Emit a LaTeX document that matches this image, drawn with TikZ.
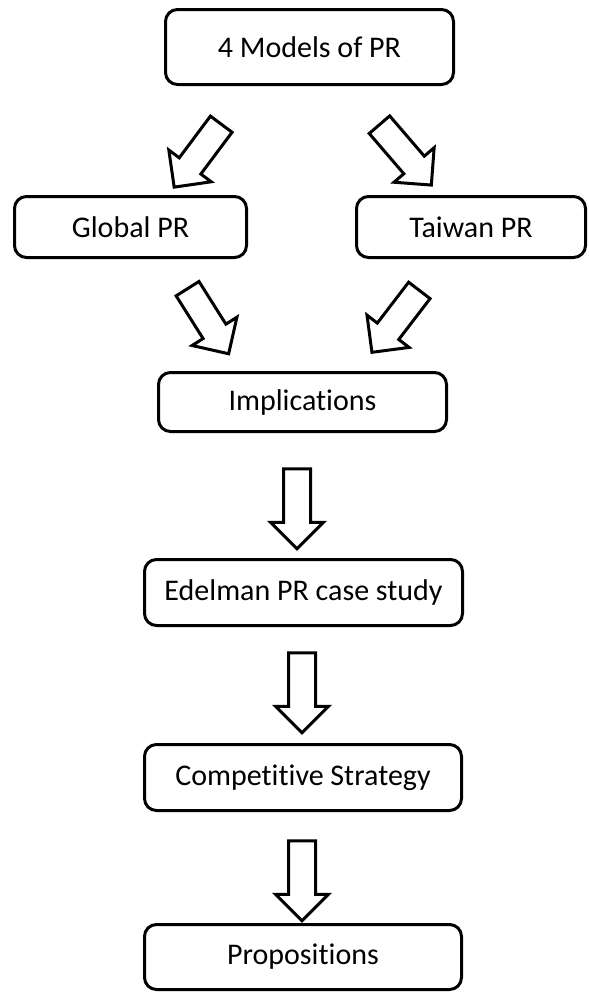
\documentclass[tikz,border=0pt]{standalone}
\usepackage{fontspec}
\setmainfont{Carlito}[Ligatures=CommonOff]
\usepackage{tikz}
\usetikzlibrary{shapes.arrows}
\usetikzlibrary{calc}

\begin{document}
\begin{tikzpicture}[x=0.5pt,y=-0.5pt,
  box/.style={draw, line width=1.5pt, rounded corners=6pt, inner sep=0pt,
    font=\fontsize{15}{18}\selectfont},
  hollowarrow/.style={single arrow, draw, line width=1.5pt, fill=white,
    inner xsep=0pt, inner ysep=6pt, single arrow head extend=6.5pt,
    sloped, allow upside down}]

\useasboundingbox (0,0) rectangle (589,993);

%top
\node[box, minimum width=144pt, minimum height=37.5pt] (models) at (309.5,47) {4 Models of PR};

%second row
\node[box, minimum width=116pt, minimum height=30.5pt] (global) at (130.5,227) {Global PR};
\node[box, minimum width=114.5pt, minimum height=30.5pt] (taiwan) at (471,227) {Taiwan PR};

%chain
\node[box, minimum width=144pt, minimum height=29.5pt] (impl) at (302.5,402) {Implications};
\node[box, minimum width=159pt, minimum height=33pt] (edelman) at (303.5,592.5) {Edelman PR case study};
\node[box, minimum width=158.5pt, minimum height=33pt] (strategy) at (303,777.5) {Competitive Strategy};
\node[box, minimum width=158.5pt, minimum height=32.5pt] (props) at (303,957) {Propositions};

%arrow ends
\coordinate (a1s) at (225.5,118.5);
\coordinate (a1t) at (178,182);
\coordinate (a2s) at (375,119.5);
\coordinate (a2t) at (427,180);
\coordinate (a3s) at (184,283);
\coordinate (a3t) at (225,348);
\coordinate (a4s) at (423.5,285);
\coordinate (a4t) at (376,347);
\coordinate (a5s) at (297,462);
\coordinate (a5t) at (297,542);
\coordinate (a6s) at (302,646);
\coordinate (a6t) at (302,726);
\coordinate (a7s) at (302,834);
\coordinate (a7t) at (302,914);

%arrows
\path (a1s) -- node[hollowarrow, minimum height=39.3pt] (arr1) {} (a1t);
\path (a2s) -- node[hollowarrow, minimum height=39.8pt] (arr2) {} (a2t);
\path (a3s) -- node[hollowarrow, minimum height=38.5pt] (arr3) {} (a3t);
\path (a4s) -- node[hollowarrow, minimum height=39pt] (arr4) {} (a4t);
\path (a5s) -- node[hollowarrow, minimum height=40pt] (arr5) {} (a5t);
\path (a6s) -- node[hollowarrow, minimum height=40pt] (arr6) {} (a6t);
\path (a7s) -- node[hollowarrow, minimum height=40pt] (arr7) {} (a7t);

\end{tikzpicture}
\end{document}
